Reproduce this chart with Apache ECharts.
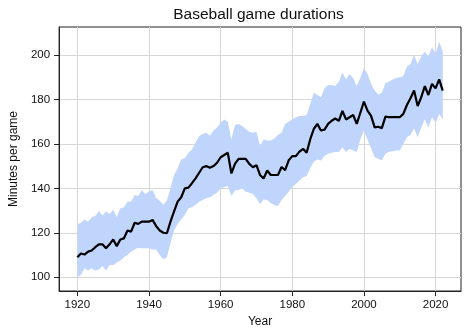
<!DOCTYPE html>
<html><head><meta charset="utf-8">
<script src="https://cdn.jsdelivr.net/npm/echarts@6/dist/echarts.min.js"></script>
<style>html,body{margin:0;padding:0;background:#fff}#c{width:474px;height:333px}</style>
</head><body><div id="c"></div>
<script>
const years = [1920,1921,1922,1923,1924,1925,1926,1927,1928,1929,
1930,1931,1932,1933,1934,1935,1936,1937,1938,1939,
1940,1941,1942,1943,1944,1945,1946,1947,1948,1949,
1950,1951,1952,1953,1954,1955,1956,1957,1958,1959,
1960,1961,1962,1963,1964,1965,1966,1967,1968,1969,
1970,1971,1972,1973,1974,1975,1976,1977,1978,1979,
1980,1981,1982,1983,1984,1985,1986,1987,1988,1989,
1990,1991,1992,1993,1994,1995,1996,1997,1998,1999,
2000,2001,2002,2003,2004,2005,2006,2007,2008,2009,
2010,2011,2012,2013,2014,2015,2016,2017,2018,2019,
2020,2021,2022];
const meanMinutes = [109,110.7,110.2,111.5,112,113.5,114.8,114.8,113,114.8,
117,114,117,117.5,121,120.5,124.5,124,125,125,
125,125.8,123,121,120,119.8,125,129.6,134,136,
140,140.3,142.3,144.5,147,149.5,150,149.3,150,151.5,
154,155,156,146.7,151,153.3,153.3,153.3,151,149.5,
150.4,146,144.4,148,146,146,146,149.6,148.2,152.6,
154.5,154.5,156.5,157.8,156,162,166.7,169,166,166.4,
169,170.4,171.4,170.4,174.8,171,172,173,169,174,
179,175,172.6,167.4,167.7,167.1,172.3,172,172,172,
172,173.5,177.5,180.5,184,177,181,186,182,187,
185,189,184];
const upperMinutes = [123.7,124.5,126,125,127,127.5,129.8,127.8,129.6,128.5,
130.4,127,131,131.5,134.1,134,137,136.5,139.3,137.5,
138.5,139.3,135.6,134.4,132.6,134.5,140,146,149,153,
153.5,156,157.5,160.5,163.5,164.5,165,163.7,166,167.4,
169.5,171,170,162,168.5,169,168,166.7,165.5,165,
165.5,159,162,161.5,161.5,162.5,164,165,169,170,
171,172,172.5,172.6,173,177.8,183,182,181,185,
186.5,186.5,186,188,192,189,191.5,189.5,186,189.6,
194,191.5,187,184,182.2,183,187.4,188,189,189.6,
190,190.4,194.8,196,200,196,199.3,201.5,199.3,203.5,
200.7,206,201.5];
const lowerMinutes = [100,101,104,103,104,103,103.5,105,103,105.5,
105.5,106.5,107.5,109,110,111.5,112.5,113.3,113,113,
113,112.5,112.5,110,108,109,115.5,121,124,126,
128,131,131.5,132.6,134,134.8,135.5,136,137,138,
140,140.5,141,136.5,139,139.3,140,138.5,138,137.5,
135.5,133,135,134.8,133.3,132.5,131.9,134.8,136.5,138.5,
140.7,142,143.5,145,145.5,149,152,153,152.5,154.5,
155.6,156,156.3,156.3,158.5,156.3,157.8,157,156.3,162,
166,162,158,154,153.3,152.6,155.6,156.5,156.7,157,
157,160,163,164,167,163,167.4,171,167.5,172,
169.6,173.5,171];
const xTicks = [1920,1940,1960,1980,2000,2020];
const yTicks = [100,120,140,160,180,200];

const FONT = '"Liberation Sans", Arial, Helvetica, sans-serif';
const chart = echarts.init(document.getElementById('c'), null, {renderer: 'canvas'});
const bandData = years.map((y, i) => [y, lowerMinutes[i], upperMinutes[i]]);
const meanData = years.map((y, i) => [y, meanMinutes[i]]);
const axisCommon = {
  axisLine: {show: true, lineStyle: {color: '#222', width: 1}},
  axisTick: {show: true, inside: false, length: 5, lineStyle: {color: '#222', width: 1}},
  splitLine: {show: true, lineStyle: {color: '#d6d6d6', width: 1}},
  nameTextStyle: {fontFamily: FONT, fontSize: 12, color: '#111'}
};
function renderBand(params, api) {
  if (params.dataIndex !== 0) return null;
  const top = [], bottom = [];
  for (let i = 0; i < bandData.length; i++) {
    top.push(api.coord([bandData[i][0], bandData[i][2]]));
    bottom.push(api.coord([bandData[i][0], bandData[i][1]]));
  }
  const pts = top.concat(bottom.reverse());
  return {type: 'polygon', shape: {points: pts}, style: {fill: '#bfd5fb', stroke: null}, silent: true};
}
chart.setOption({
  animation: false,
  backgroundColor: '#fff',
  grid: {left: 56, right: 13, top: 27, bottom: 39, show: true, borderColor: '#222', borderWidth: 1, backgroundColor: 'transparent', containLabel: false},
  graphic: [{
    type: 'text', x: 258.5, y: 15,
    style: {text: 'Baseball game durations', align: 'center', verticalAlign: 'middle', font: '15.5px ' + FONT, fill: '#111'}
  }],
  xAxis: Object.assign({}, axisCommon, {
    type: 'value', min: 1914.9, max: 2027.1,
    name: 'Year', nameLocation: 'middle', nameGap: 25,
    axisTick: Object.assign({}, axisCommon.axisTick, {customValues: xTicks}),
    axisLabel: {customValues: xTicks, margin: 8, fontFamily: FONT, fontSize: 11.5, color: '#111', formatter: v => String(v)}
  }),
  yAxis: Object.assign({}, axisCommon, {
    type: 'value', min: 93.8, max: 212.6,
    name: 'Minutes per game', nameLocation: 'middle', nameGap: 33,
    axisTick: Object.assign({}, axisCommon.axisTick, {customValues: yTicks}),
    axisLabel: {customValues: yTicks, margin: 9, fontFamily: FONT, fontSize: 11.5, color: '#111', formatter: v => String(v)}
  }),
  series: [
    {type: 'custom', data: bandData, renderItem: renderBand, encode: {x: 0, y: [1, 2]}, silent: true, z: 1, clip: true},
    {type: 'line', data: meanData, symbol: 'none', lineStyle: {color: '#000', width: 2.2}, z: 3}
  ]
});
</script></body></html>
